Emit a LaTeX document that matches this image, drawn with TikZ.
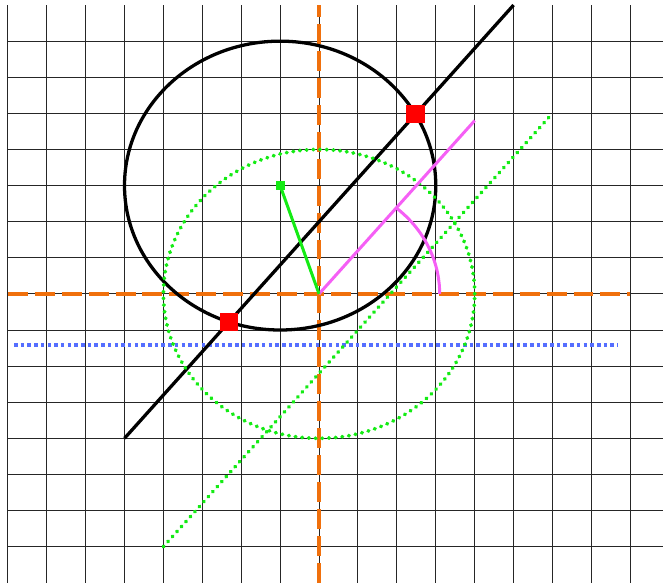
\documentclass[tikz,border=0pt]{standalone}
\definecolor{axisorange}{RGB}{240,112,12}
\definecolor{dotblue}{RGB}{85,110,255}
\definecolor{brightgreen}{RGB}{20,235,20}
\definecolor{pinkmag}{RGB}{245,95,245}
\begin{document}
\begin{tikzpicture}[x=1cm,y=0.928cm,
  gridline/.style={line width=0.7pt,black!85},
  axisline/.style={line width=2.4pt,draw=axisorange,dash pattern=on 14.6pt off 5.1pt},
  bluedot/.style={line width=2.4pt,draw=dotblue,dash pattern=on 2.6pt off 2.3pt},
  greendot/.style={line width=2.8pt,draw=brightgreen,line cap=round,dash pattern=on 0.4pt off 4.5pt},
  blackline/.style={line width=2.4pt,draw=black},
  magline/.style={line width=2.2pt,draw=pinkmag},
  greenline/.style={line width=2.2pt,draw=brightgreen},
  redpt/.style={fill=red,draw=none,minimum size=13.2pt,inner sep=0pt},
  greenpt/.style={fill=brightgreen,draw=none,minimum size=6.4pt,inner sep=0pt}]
\useasboundingbox (-8.2,-8.12) rectangle (8.84,8.14);
\clip (-8.2,-8.12) rectangle (8.84,8.14);
% grid
\foreach \x in {-8,...,8} \draw[gridline] (\x,-8) -- (\x,8);
\foreach \y in {-7,...,7} \draw[gridline] (-8,\y) -- (8.84,\y);
% coordinates
\coordinate (O) at (0,0);
\coordinate (XL) at (-8,0);
\coordinate (XR) at (8,0);
\coordinate (YB) at (0,-8);
\coordinate (YT) at (0,8);
\coordinate (BL) at (-7.84,-1.414);
\coordinate (BR) at (7.69,-1.414);
\coordinate (G1) at (-4,-7);
\coordinate (G2) at (6,5);
\coordinate (L1) at (-5,-4);
\coordinate (L2) at (5,8);
\coordinate (M) at (4,4.8);
\coordinate (Cc) at (-1,3);
% axes
\draw[axisline] (XL) -- (XR);
\draw[axisline] (YB) -- (YT);
% blue dotted line
\draw[bluedot] (BL) -- (BR);
% black circle and line
\draw[blackline] (Cc) circle[radius=4];
\draw[blackline] (L1) -- (L2);
% green dotted circle and line
\draw[greendot] (O) circle[radius=4];
\draw[greendot] (G1) -- (G2);
% magenta direction and angle arc
\draw[magline] (O) -- (M);
\draw[magline] (3.1,0) arc[start angle=0,end angle=50.19,radius=3.1];
% green radius segment and points
\node[greenpt] (C) at (Cc) {};
\draw[greenline] (Cc) -- (O);
\node[redpt] (A) at (2.4787,4.9745) {};
\node[redpt] (B) at (-2.3148,-0.7778) {};
\end{tikzpicture}
\end{document}
